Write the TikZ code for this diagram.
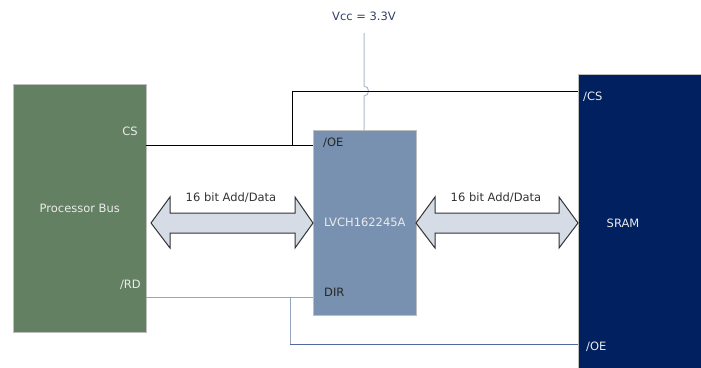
\documentclass[tikz,border=0pt]{standalone}
\usepackage{fontspec}
\setmainfont{DejaVu Sans}
\begin{document}
\begin{tikzpicture}[x=1pt,y=-1pt,
  every node/.style={font=\fontsize{11.5}{13}\selectfont, inner sep=0pt},
  box/.style={draw=black!25, line width=0.6pt, anchor=north west, text=white!92!black},
  pin/.style={text=white!92!black},
  dpin/.style={text=black!85},
  busarrow/.style={draw=black!80, fill=bus, line width=1pt, line join=miter},
  buslabel/.style={text=black!80},
  cswire/.style={draw=black, line width=0.9pt},
  sigwire/.style={draw=sig, line width=0.7pt},
  oewire/.style={draw=oe, line width=0.7pt},
  vccwire/.style={draw=vcc, line width=1pt}]
\definecolor{procg}{RGB}{99,128,98}
\definecolor{lvc}{RGB}{120,145,177}
\definecolor{sramc}{RGB}{0,32,96}
\definecolor{bus}{RGB}{213,220,230}
\definecolor{sig}{RGB}{150,165,190}
\definecolor{oe}{RGB}{80,105,160}
\definecolor{vcc}{RGB}{170,185,205}
\definecolor{vcct}{RGB}{50,65,100}
\useasboundingbox (0,0) rectangle (701,367);

% boxes
\node[box, fill=procg, minimum width=133pt, minimum height=248pt] (pb) at (13,84) {};
\node[pin] at (pb.center) {Processor Bus};
\node[box, fill=lvc, minimum width=103pt, minimum height=185pt] (lv) at (313,130) {};
\node[pin] at (lv.center) {LVCH162245A};
\node[box, fill=sramc, draw=none, minimum width=130pt, minimum height=300pt] (sr) at (578,74) {};
\draw[black!25, line width=0.6pt] (sr.south west) -- (sr.north west) -- (sr.north east);
\node[pin] at (623,223) {SRAM};

% pin labels
\node[pin, anchor=east] (pbcs) at (138,131) {CS};
\node[pin, anchor=east] (pbrd) at (141,285) {/RD};
\node[dpin, anchor=west] (lvoe) at (323,143) {/OE};
\node[dpin, anchor=west] (lvdir) at (324,292) {DIR};
\node[pin, anchor=west] (srcs) at (583,97) {/CS};
\node[pin, anchor=west] (sroe) at (586,347) {/OE};

% wire coordinates
\coordinate (csA) at (146,145);
\coordinate (csB) at (313,145);
\coordinate (csJ) at (292,145);
\coordinate (csT) at (292,91);
\coordinate (csS) at (578,91);
\coordinate (rdA) at (146,297);
\coordinate (rdB) at (313,297);
\coordinate (rdJ) at (290,297);
\coordinate (rdT) at (290,344);
\coordinate (rdS) at (578,344);

% Vcc
\node[text=vcct] (vccl) at (364,16) {Vcc = 3.3V};
\draw[vccwire] (364,33) -- (364,86) .. controls (370,86) and (370,96) .. (364,96) -- (lv.north -| 364,0);

% wires
\draw[cswire] (csA) -- (csB);
\draw[cswire] (csJ) -- (csT) -- (csS);
\draw[sigwire] (rdA) -- (rdB);
\draw[sigwire] (rdJ) -- (rdT);
\draw[oewire] (rdT) -- (rdS);

% bus arrows
\draw[busarrow] (151,223) -- (170,197) -- (170,213) -- (295,213) -- (295,197) -- (313,223)
  -- (295,248) -- (295,233) -- (170,233) -- (170,248) -- cycle;
\node[buslabel] (bl1) at (231,198) {16 bit Add/Data};
\draw[busarrow] (416,223) -- (435,197) -- (435,213) -- (559,213) -- (559,197) -- (578,223)
  -- (559,248) -- (559,233) -- (435,233) -- (435,248) -- cycle;
\node[buslabel] (bl2) at (496,198) {16 bit Add/Data};
\end{tikzpicture}
\end{document}
